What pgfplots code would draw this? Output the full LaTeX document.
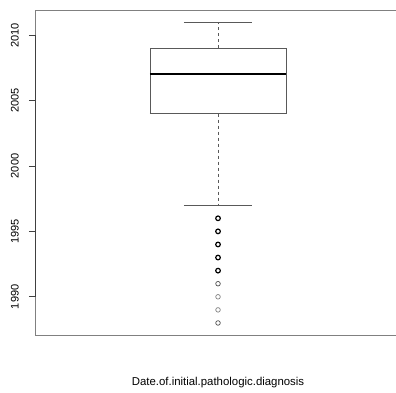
\documentclass[border=0pt]{standalone}
\usepackage{pgfplots}
\pgfplotsset{compat=1.18}
\usepackage{fontspec}
\setmainfont{Liberation Sans}

\definecolor{framegray}{gray}{0.5}
\definecolor{boxgray}{gray}{0.35}

\begin{document}
\fontsize{11}{13}\selectfont
\begin{tikzpicture}[x=1pt,y=1pt]
\useasboundingbox (0,0) rectangle (396,392);
\clip (0,0) rectangle (396,392);
% the plotting region runs on past the right edge of the page
\begin{axis}[
  at={(35pt,57pt)}, anchor=south west,
  scale only axis, width=500pt, height=325pt,
  xmin=0.5, xmax=1.866,
  ymin=1987.08, ymax=2011.92,
  clip=false,
  axis x line=box, axis y line=left,
  axis line style={framegray, line width=0.8pt, -},
  xtick=\empty,
  ytick={1990,1995,2000,2005,2010},
  tick align=outside,
  major tick length=6pt,
  tick style={black!75, line width=0.6pt},
  /pgf/number format/assume math mode=true,
  /pgf/number format/1000 sep={},
  yticklabel style={font=\fontsize{11}{13}\selectfont, xshift=-10pt, rotate=90, anchor=south, inner sep=0pt},
]
% left axis line spanning the tick range
\addplot[black!75, line width=0.8pt] coordinates {(0.5,1990) (0.5,2010)};
% box (lower to upper quartile)
\addplot[boxgray, line width=0.6pt] coordinates {(0.814,2004) (1.186,2004) (1.186,2009) (0.814,2009) (0.814,2004)};
% median
\addplot[black, line width=2.2pt] coordinates {(0.814,2007) (1.186,2007)};
% whiskers
\addplot[boxgray, line width=0.6pt, dash pattern=on 3pt off 3pt] coordinates {(1,2009) (1,2011)};
\addplot[boxgray, line width=0.6pt, dash pattern=on 3pt off 3pt] coordinates {(1,2004) (1,1997)};
% whisker caps
\addplot[boxgray, line width=0.6pt] coordinates {(0.907,2011) (1.093,2011)};
\addplot[boxgray, line width=0.6pt] coordinates {(0.907,1997) (1.093,1997)};
% outliers (repeated values drawn heavier)
\addplot[only marks, mark=o, mark size=2.3pt, mark options={black, line width=1.2pt}] coordinates {
  (1,1996) (1,1995) (1,1994) (1,1993) (1,1992)};
\addplot[only marks, mark=o, mark size=2.3pt, mark options={black!70, line width=0.7pt}] coordinates {
  (1,1991) (1,1988)};
\addplot[only marks, mark=o, mark size=2.3pt, mark options={black!50, line width=0.7pt}] coordinates {
  (1,1990) (1,1989)};
% axis title below the frame
\node[font=\fontsize{11.4}{13}\selectfont] at (axis cs:1,1987.08) [yshift=-48pt] {Date.of.initial.pathologic.diagnosis};
\end{axis}
\end{tikzpicture}
\end{document}
